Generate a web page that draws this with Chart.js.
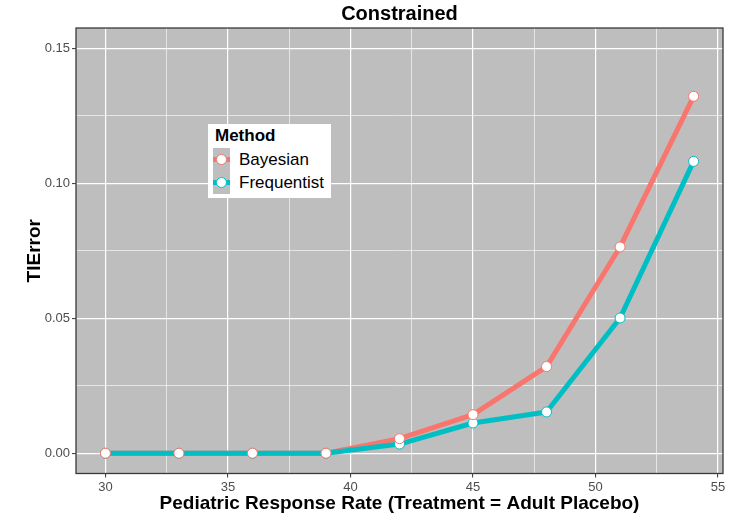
<!DOCTYPE html>
<html>
<head>
<meta charset="utf-8">
<script src="https://cdn.jsdelivr.net/npm/chart.js@4.4.1/dist/chart.umd.min.js"></script>
<style>
  html, body { margin: 0; padding: 0; background: #ffffff; }
  #wrap { position: relative; width: 744px; height: 519px; }
  #legend { position: absolute; left: 208px; top: 124px; width: 123px; height: 74px; background: #ffffff;
            font-family: "Liberation Sans", Arial, sans-serif; color: #000; }
  #legend .ttl { position: absolute; left: 7px; top: 2px; font-weight: bold; font-size: 17px; }
  #legend .key { position: absolute; left: 5px; width: 17px; height: 23px; background: #BEBEBE; }
  #legend .bar { position: absolute; left: 0; right: 0; top: 9px; height: 5px; }
  #legend .dot { position: absolute; left: 3px; top: 6px; width: 9px; height: 9px; border-radius: 50%; background: #fff; border: 1px solid; }
  #legend .lab { position: absolute; left: 31px; font-size: 17px; line-height: 23px; white-space: nowrap; }
</style>
</head>
<body>
<div id="wrap">
  <canvas id="c" width="744" height="519"></canvas>
  <div id="legend"></div>
</div>
<script>
// ---- data ----
const responseRate = [30, 33, 36, 39, 42, 45, 48, 51, 54];
const bayesian     = [0, 0, 0, 0, 0.0054, 0.0143, 0.0321, 0.0764, 0.1322];
const frequentist  = [0, 0, 0, 0, 0.0034, 0.0112, 0.0153, 0.0501, 0.1081];
const seriesNames  = ['Bayesian', 'Frequentist'];
const seriesColors = ['#F8766D', '#00BFC4'];
const xTicks = [30, 35, 40, 45, 50, 55];
const yTicks = [0, 0.05, 0.10, 0.15];
const chartTitle = 'Constrained';
const xTitle = 'Pediatric Response Rate (Treatment = Adult Placebo)';
const yTitle = 'TIError';
const legendTitle = 'Method';

const toXY = (vals) => responseRate.map((x, i) => ({x: x, y: vals[i]}));
const seriesValues = [bayesian, frequentist];

const isMajor = (v, list) => list.some(t => Math.abs(t - v) < 1e-9);

const datasets = [];
// points (on top)
[0, 1].forEach(i => {
  datasets.push({
    label: seriesNames[i] + ' points',
    data: toXY(seriesValues[i]),
    showLine: false,
    pointRadius: 5,
    pointHoverRadius: 5,
    pointBackgroundColor: '#ffffff',
    pointBorderColor: seriesColors[i],
    pointBorderWidth: 1,
    order: i
  });
});
// lines (beneath)
[1, 0].forEach((i, k) => {
  datasets.push({
    label: seriesNames[i],
    data: toXY(seriesValues[i]),
    borderColor: seriesColors[i],
    borderWidth: 5,
    pointRadius: 0,
    tension: 0,
    borderJoinStyle: 'round',
    order: 2 + k
  });
});

const panelPlugin = {
  id: 'panel',
  beforeDraw(chart) {
    const {ctx, chartArea: a} = chart;
    ctx.save();
    ctx.fillStyle = '#BEBEBE';
    ctx.fillRect(a.left, a.top, a.right - a.left, a.bottom - a.top);
    ctx.restore();
  },
  afterDatasetsDraw(chart) {
    const {ctx, chartArea: a} = chart;
    ctx.save();
    ctx.strokeStyle = '#3a3a3a';
    ctx.lineWidth = 1.3;
    ctx.strokeRect(a.left, a.top, a.right - a.left, a.bottom - a.top);
    ctx.restore();
  }
};

const tickFont = {family: '"Liberation Sans", Arial, sans-serif', size: 13};

new Chart(document.getElementById('c'), {
  type: 'line',
  data: {datasets: datasets},
  plugins: [panelPlugin],
  options: {
    responsive: false,
    animation: false,
    events: [],
    layout: {padding: {left: 0, right: 21, top: 0, bottom: 0}},
    plugins: {
      legend: {display: false},
      tooltip: {enabled: false},
      title: {
        display: true,
        text: chartTitle,
        fullSize: false,
        color: '#000',
        font: {family: '"Liberation Sans", Arial, sans-serif', size: 20, weight: 'bold'},
        padding: {top: 2, bottom: 2}
      }
    },
    scales: {
      x: {
        type: 'linear',
        min: 28.8,
        max: 55.2,
        ticks: {
          stepSize: 2.5,
          includeBounds: false,
          autoSkip: false,
          maxRotation: 0,
          color: '#4D4D4D',
          font: tickFont,
          padding: 2,
          callback: (v) => isMajor(v, xTicks) ? String(v) : ''
        },
        grid: {
          color: (c) => isMajor(c.tick.value, xTicks) ? '#ffffff' : 'rgba(255,255,255,0.75)',
          lineWidth: (c) => isMajor(c.tick.value, xTicks) ? 1.2 : 0.8,
          tickColor: (c) => isMajor(c.tick.value, xTicks) ? '#333333' : 'rgba(0,0,0,0)',
          tickLength: 4,
          tickWidth: 1
        },
        border: {display: false},
        title: {
          display: true,
          text: xTitle,
          color: '#000',
          font: {family: '"Liberation Sans", Arial, sans-serif', size: 19, weight: 'bold'},
          padding: {top: 0, bottom: 3.4}
        },
        afterFit(scale) { scale.height = 45.5; scale.paddingLeft = 0; scale.paddingRight = 0; }
      },
      y: {
        type: 'linear',
        min: -0.0075,
        max: 0.1575,
        ticks: {
          stepSize: 0.025,
          includeBounds: false,
          autoSkip: false,
          color: '#4D4D4D',
          font: tickFont,
          padding: 2,
          callback: (v) => isMajor(v, yTicks) ? v.toFixed(2) : ''
        },
        grid: {
          color: (c) => isMajor(c.tick.value, yTicks) ? '#ffffff' : 'rgba(255,255,255,0.75)',
          lineWidth: (c) => isMajor(c.tick.value, yTicks) ? 1.2 : 0.8,
          tickColor: (c) => isMajor(c.tick.value, yTicks) ? '#333333' : 'rgba(0,0,0,0)',
          tickLength: 4,
          tickWidth: 1
        },
        border: {display: false},
        title: {
          display: true,
          text: yTitle,
          color: '#000',
          font: {family: '"Liberation Sans", Arial, sans-serif', size: 19, weight: 'bold'},
          padding: {top: 23, bottom: 0}
        },
        afterFit(scale) { scale.width = 76; scale.paddingTop = 0; scale.paddingBottom = 0; }
      }
    }
  }
});

// legend (HTML text)
const lg = document.getElementById('legend');
let html = '<div class="ttl">' + legendTitle + '</div>';
seriesNames.forEach((name, i) => {
  const top = 24 + i * 23;
  html += '<div class="key" style="top:' + top + 'px"><div class="bar" style="background:' + seriesColors[i] +
          '"></div><div class="dot" style="border-color:' + seriesColors[i] + '"></div></div>' +
          '<div class="lab" style="top:' + top + 'px">' + name + '</div>';
});
lg.innerHTML = html;
</script>
</body>
</html>
